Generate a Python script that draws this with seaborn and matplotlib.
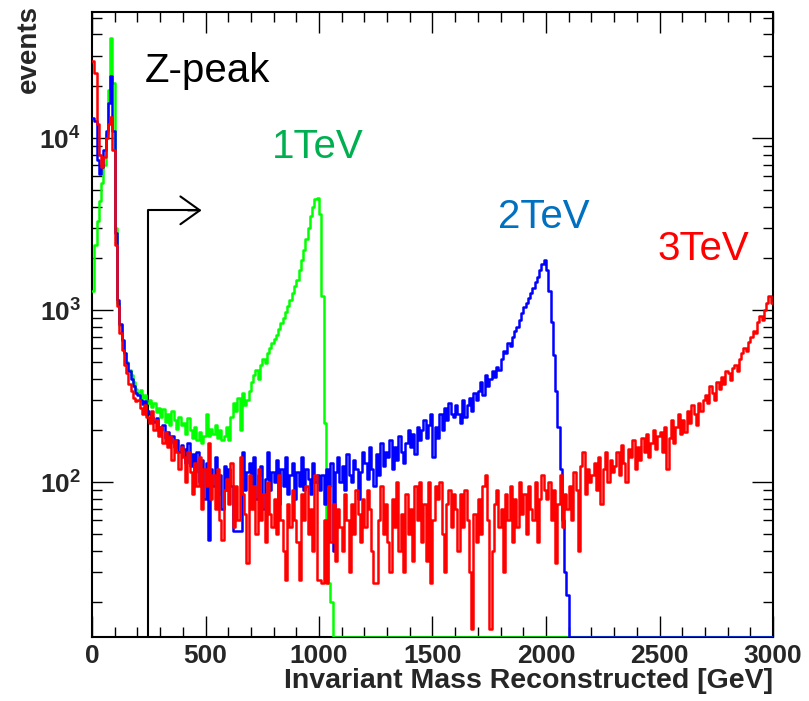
"""
Reconstructed invariant mass spectra for 1, 2 and 3 TeV samples
(log-scale histograms drawn as steps with seaborn)
"""

import numpy as np
import pandas as pd
import matplotlib.pyplot as plt
import seaborn as sns
from matplotlib.ticker import FixedLocator, LogLocator, MultipleLocator, NullFormatter

BIN_WIDTH = 10  # GeV
MASS_MAX = 3000

# events per 10 GeV bin (one row = 100 GeV)
counts_1tev = (
    [1300, 2400, 3300, 4300, 5500, 7000, 10500, 19000, 38000, 21000]
    + [3000, 1100, 820, 660, 560, 500, 450, 420, 380, 350]
    + [330, 345, 310, 320, 290, 300, 275, 290, 255, 270]
    + [240, 265, 225, 250, 215, 260, 230, 205, 240, 215]
    + [220, 190, 235, 200, 180, 210, 175, 195, 170, 185]
    + [250, 185, 205, 190, 215, 180, 200, 175, 185, 210]
    + [175, 240, 290, 260, 310, 200, 330, 280, 300, 340]
    + [380, 420, 450, 400, 480, 520, 490, 560, 600, 640]
    + [680, 720, 780, 840, 900, 970, 1050, 1150, 1250, 1380]
    + [1500, 1700, 1950, 2250, 2600, 3000, 3500, 4000, 4400, 4500]
    + [3600, 1200, 220, 60, 26, 20, 0, 0, 0, 0]
    + [0] * 190
)

counts_2tev = (
    [13000, 12500, 7500, 6200, 6800, 8500, 11000, 16000, 23000, 11000]
    + [2800, 1150, 830, 670, 560, 490, 440, 400, 360, 330]
    + [320, 300, 285, 295, 260, 250, 240, 225, 235, 210]
    + [200, 215, 180, 195, 170, 185, 160, 175, 150, 165]
    + [155, 130, 170, 125, 145, 115, 150, 100, 135, 80]
    + [130, 46, 120, 95, 140, 85, 110, 70, 125, 90]
    + [120, 95, 52, 52, 52, 52, 150, 90, 115, 130]
    + [95, 140, 80, 110, 125, 70, 105, 150, 90, 115]
    + [100, 135, 75, 120, 95, 140, 85, 110, 130, 80]
    + [115, 95, 140, 90, 120, 105, 85, 130, 100, 110]
    + [90, 110, 75, 120, 95, 130, 40, 115, 140, 100]
    + [125, 90, 145, 110, 100, 135, 120, 80, 115, 150]
    + [130, 105, 160, 120, 95, 145, 110, 170, 125, 150]
    + [140, 175, 120, 160, 135, 185, 150, 130, 170, 200]
    + [160, 190, 145, 210, 175, 200, 230, 180, 215, 250]
    + [140, 210, 180, 250, 200, 270, 230, 290, 250, 240]
    + [280, 250, 220, 300, 240, 280, 310, 260, 330, 300]
    + [340, 380, 320, 420, 360, 400, 440, 410, 470, 450]
    + [520, 580, 560, 640, 620, 700, 760, 800, 880, 960]
    + [1040, 1100, 1180, 1250, 1350, 1450, 1550, 1700, 1850, 1950]
    + [1700, 1300, 850, 550, 340, 210, 120, 60, 30, 22]
    + [0] * 90
)

counts_3tev = (
    [28000, 24000, 12000, 8000, 6800, 7800, 10000, 12000, 13300, 8500]
    + [2400, 1050, 740, 590, 480, 430, 370, 340, 310, 295]
    + [300, 270, 250, 280, 240, 220, 260, 200, 230, 185]
    + [210, 170, 195, 160, 185, 135, 175, 150, 120, 160]
    + [140, 100, 150, 115, 85, 130, 95, 140, 70, 120]
    + [95, 170, 80, 110, 70, 120, 60, 46, 90, 105]
    + [75, 130, 55, 95, 60, 140, 85, 65, 34, 110]
    + [70, 95, 50, 120, 60, 85, 45, 100, 65, 55]
    + [80, 50, 110, 60, 40, 27, 75, 55, 90, 60]
    + [45, 27, 85, 60, 95, 50, 70, 40, 110, 27]
    + [27, 26, 60, 26, 95, 45, 75, 35, 70, 55]
    + [40, 85, 60, 30, 75, 50, 90, 65, 45, 80]
    + [55, 90, 70, 40, 26, 26, 60, 95, 50, 75]
    + [45, 30, 80, 55, 100, 40, 65, 30, 85, 50]
    + [70, 35, 95, 60, 100, 45, 75, 35, 100, 26]
    + [60, 95, 80, 100, 50, 30, 75, 90, 55, 85]
    + [70, 40, 85, 55, 90, 60, 30, 14, 65, 45]
    + [80, 50, 95, 110, 60, 14, 40, 75, 90, 55]
    + [70, 30, 85, 60, 95, 45, 80, 55, 100, 65]
    + [85, 50, 95, 70, 60, 100, 45, 80, 110, 90]
    + [80, 100, 60, 90, 34, 75, 110, 55, 85, 70]
    + [95, 60, 115, 90, 40, 125, 150, 85, 120, 100]
    + [110, 130, 90, 140, 75, 120, 150, 100, 135, 115]
    + [125, 150, 110, 165, 130, 100, 155, 140, 175, 120]
    + [160, 135, 180, 150, 190, 140, 170, 200, 155, 185]
    + [195, 150, 210, 120, 180, 230, 170, 210, 250, 190]
    + [230, 195, 260, 220, 280, 250, 215, 290, 260, 300]
    + [320, 290, 360, 330, 300, 380, 350, 410, 370, 440]
    + [430, 390, 460, 480, 440, 520, 560, 600, 580, 650]
    + [700, 760, 740, 850, 920, 880, 1000, 1100, 1200, 1100]
)

samples = ['1TeV', '2TeV', '3TeV']
line_colors = ['#00ff00', '#0000ff', '#ff0000']
label_colors = ['#00b050', '#0070c0', '#ff0000']

Y_MIN, Y_MAX = 12.6, 5.4e4

# selection cut marker (GeV, events)
cut_mass = 245
cut_arrow_end = 483
cut_arrow_height = 3800

sns.set_style('ticks')
plt.rcParams['font.family'] = ['Liberation Sans', 'DejaVu Sans']
plt.rcParams['mathtext.fontset'] = 'custom'
plt.rcParams['mathtext.bf'] = 'Liberation Sans:bold'
plt.rcParams['mathtext.rm'] = 'Liberation Sans:bold'

edges = np.arange(0, MASS_MAX + BIN_WIDTH, BIN_WIDTH)
frames = []
for name, counts in zip(samples, [counts_1tev, counts_2tev, counts_3tev]):
    assert len(counts) == len(edges) - 1, (name, len(counts))
    # empty bins are drawn on the lower frame edge, as ROOT does
    vals = np.clip(np.array(counts + [counts[-1]], dtype=float), Y_MIN, None)
    frames.append(pd.DataFrame({'mass': edges, 'events': vals, 'sample': name}))
df = pd.concat(frames, ignore_index=True)

fig = plt.figure(figsize=(8.09, 7.01), dpi=100)
ax = fig.add_axes([92 / 809, 64 / 701, 681 / 809, 625 / 701])

sns.lineplot(data=df, x='mass', y='events', hue='sample', hue_order=samples,
             palette=line_colors, drawstyle='steps-post', estimator=None,
             linewidth=1.8, legend=False, ax=ax, zorder=3)

ax.set_yscale('log')
ax.set_xlim(0, MASS_MAX)
ax.set_ylim(Y_MIN, Y_MAX)

# cut arrow
ax.plot([cut_mass, cut_mass, cut_arrow_end - 20], [Y_MIN, cut_arrow_height, cut_arrow_height],
        color='black', lw=1.5, solid_capstyle='butt')
ax.annotate('', xy=(cut_arrow_end, cut_arrow_height), xytext=(cut_arrow_end - 60, cut_arrow_height),
            arrowprops=dict(arrowstyle='->,head_length=0.7,head_width=0.5', lw=1.5,
                            color='black', mutation_scale=20, shrinkA=0, shrinkB=0))

ax.text(233, 21200, 'Z-peak', fontsize=29, color='black', ha='left', va='baseline')
text_pos = [(793, 7700), (1789, 3000), (2489, 1950)]
for name, color, (tx, ty) in zip(samples, label_colors, text_pos):
    ax.text(tx, ty, name, fontsize=29, color=color, ha='left', va='baseline')

# ROOT-like axes
ax.xaxis.set_major_locator(MultipleLocator(500))
ax.xaxis.set_minor_locator(MultipleLocator(100))
ax.yaxis.set_major_locator(FixedLocator([1e2, 1e3, 1e4]))
ax.yaxis.set_minor_locator(LogLocator(base=10, subs=np.arange(2, 10), numticks=20))
ax.yaxis.set_minor_formatter(NullFormatter())
ax.set_yticklabels([r'$\mathbf{10^{2}}$', r'$\mathbf{10^{3}}$', r'$\mathbf{10^{4}}$'])
ax.tick_params(which='both', direction='in', top=True, right=True, width=1.0, color='black')
ax.tick_params(which='major', length=15)
ax.tick_params(which='minor', length=7.5)
ax.tick_params(axis='x', which='major', labelsize=19, pad=5)
ax.tick_params(axis='y', which='major', labelsize=19, pad=8)
for lab in ax.get_xticklabels():
    lab.set_fontweight('bold')
for spine in ax.spines.values():
    spine.set_linewidth(1.5)
    spine.set_color('black')

ax.set_xlabel('Invariant Mass Reconstructed [GeV]', fontsize=20.5, fontweight='bold',
              loc='right', labelpad=0)
ax.set_ylabel('events', fontsize=20, fontweight='bold', loc='top')
ax.yaxis.set_label_coords(-0.073, 1.011)

fig.savefig('out.png', dpi=100)
